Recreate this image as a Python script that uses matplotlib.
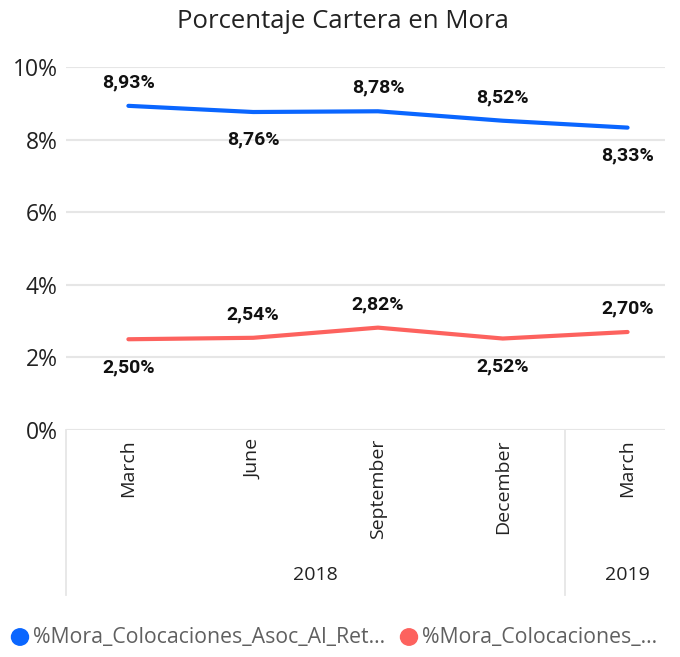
import matplotlib.pyplot as plt
from matplotlib.lines import Line2D
import matplotlib.transforms as mtransforms

# datos
meses = ["March", "June", "September", "December", "March"]
anios = ["2018", "2019"]
mora_asoc = [8.93, 8.76, 8.78, 8.52, 8.33]
mora_otro = [2.50, 2.54, 2.82, 2.52, 2.70]
pos_asoc = [1, -1, 1, 1, -1]   # etiqueta arriba/abajo
pos_otro = [-1, 1, 1, -1, 1]
yticks = [0, 2, 4, 6, 8, 10]

azul = "#0a66ff"
rojo = "#fd625e"

plt.rcParams['font.family'] = ['Open Sans', 'DejaVu Sans']

fig = plt.figure(figsize=(6.8, 6.57), dpi=100)
ax = fig.add_axes([66 / 680, 227 / 657, 599 / 680, 363 / 657])

x = list(range(len(meses)))
ax.plot(x, mora_asoc, color=azul, lw=3, solid_capstyle='round')
ax.plot(x, mora_otro, color=rojo, lw=3, solid_capstyle='round')

for serie, pos in ((mora_asoc, pos_asoc), (mora_otro, pos_otro)):
    for xi, v, p in zip(x, serie, pos):
        dy = 17 if p > 0 else -20
        ax.annotate(f"{v:.2f}%".replace(".", ","), (xi, v), xytext=(0, dy),
                    textcoords='offset points', ha='center', va='center',
                    fontsize=14, fontweight='bold', family='Roboto', color='#111111')

ax.set_xlim(-0.5, 4.3)
ax.set_ylim(0, 10)
ax.set_yticks(yticks)
ax.set_yticklabels([f"{t}%" for t in yticks], fontsize=16.5, color='#222222')
ax.tick_params(axis='y', length=0, pad=6)
ax.set_xticks([])
ax.grid(axis='y', color='#e6e6e6', lw=1.5)
ax.set_axisbelow(True)
for s in ax.spines.values():
    s.set_visible(False)

# ejes jerárquicos
tr = mtransforms.blended_transform_factory(ax.transData, ax.transAxes)
for xi, m in zip(x, meses):
    ax.text(xi, -0.025, m, rotation=90, ha='center', va='top', fontsize=14,
            color='#222222', transform=tr)
ax.text(1.5, -0.4, anios[0], ha='center', va='center', fontsize=14,
        color='#222222', transform=tr)
ax.text(4, -0.4, anios[1], ha='center', va='center', fontsize=14,
        color='#222222', transform=tr)
for xs in (-0.5, 3.5):
    ax.add_line(Line2D([xs, xs], [0, -0.455], color='#e6e6e6', lw=1.3,
                       transform=tr, clip_on=False))

fig.text(343 / 680, 1 - 22 / 657, "Porcentaje Cartera en Mora", ha='center',
         va='center', fontsize=18.5, color='#222222')

# leyenda
fig.patches.append(plt.Circle((20 / 680, 1 - 637 / 657), 0.0125, color=azul,
                              transform=fig.transFigure, figure=fig))
fig.text(33 / 680, 1 - 637 / 657, "%Mora_Colocaciones_Asoc_Al_Ret...", ha='left',
         va='center', fontsize=15.3, color='#606060')
fig.patches.append(plt.Circle((409 / 680, 1 - 637 / 657), 0.0125, color=rojo,
                              transform=fig.transFigure, figure=fig))
fig.text(422 / 680, 1 - 637 / 657, "%Mora_Colocaciones_...", ha='left',
         va='center', fontsize=15.3, color='#606060')

fig.savefig("out.png", dpi=100)
